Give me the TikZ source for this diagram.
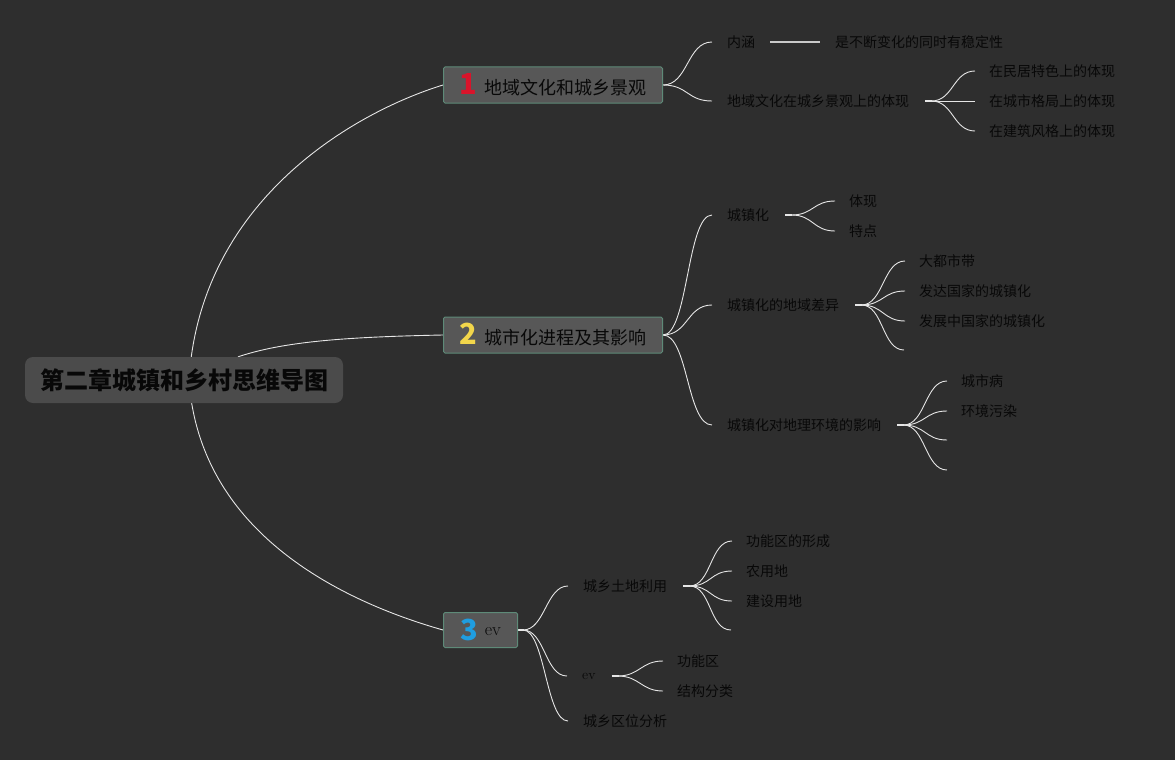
\documentclass[tikz,border=0pt]{standalone}
\usepackage{fontspec}
\newfontfamily\cjk{Noto Sans CJK SC}
\usetikzlibrary{calc}
\definecolor{bgc}{HTML}{2E2E2E}
\definecolor{boxc}{HTML}{575757}
\definecolor{bordc}{HTML}{5E8A78}
\definecolor{rootc}{HTML}{4B4B4B}
\definecolor{linec}{HTML}{E6E6E6}
\definecolor{txt}{HTML}{080808}
\definecolor{numa}{HTML}{D9142B}
\definecolor{numb}{HTML}{F2D64B}
\definecolor{numc}{HTML}{1F9DE0}
\pgfdeclarelayer{bg}
\pgfdeclarelayer{lines}
\pgfsetlayers{bg,lines,main}
\newcommand\numf{\cjk\bfseries\fontsize{29}{30}\selectfont}
\begin{document}
\begin{tikzpicture}[x=1pt,y=-1pt,
  br/.style={draw=linec, line width=0.9pt},
  lbl/.style={anchor=west, inner sep=0pt, font=\cjk\fontsize{14}{16}\selectfont, text=txt},
  topic/.style={draw=bordc, fill=boxc, line width=1pt, rounded corners=1.5pt,
     minimum height=36pt, anchor=west, inner sep=0pt,
     font=\cjk\fontsize{18}{20}\selectfont, text=txt},
  rootbox/.style={fill=rootc, rounded corners=8pt, minimum width=318pt, minimum height=46pt,
     inner sep=0pt, font=\cjk\bfseries\fontsize{24}{26}\selectfont, text=txt}]
\begin{pgfonlayer}{bg}
\fill[bgc] (0,0) rectangle (1175,760);
\end{pgfonlayer}
\useasboundingbox (0,0) rectangle (1175,760);

% root and topics
\node[rootbox] (root) at (184,380) {第二章城镇和乡村思维导图};
\node[topic, minimum width=219pt] (n1) at (443,85) {{\numf\color{numa}1}\hspace{7pt}地域文化和城乡景观};
\node[topic, minimum width=219pt] (n2) at (443,335) {{\numf\color{numb}2}\hspace{7pt}城市化进程及其影响};
\node[topic, minimum width=74pt, minimum height=35pt] (n3) at (443,630) {{\numf\color{numc}3}\hspace{7pt}\raisebox{5pt}{\rmfamily ev}};

% branch 1
\node[lbl] (a1) at (727,42) {内涵};
\node[lbl] (a1x) at (835,42) {是不断变化的同时有稳定性};
\node[lbl] (a2) at (727,101) {地域文化在城乡景观上的体现};
\node[lbl] (a21) at (989,71) {在民居特色上的体现};
\node[lbl] (a22) at (989,101) {在城市格局上的体现};
\node[lbl] (a23) at (989,131) {在建筑风格上的体现};

% branch 2
\node[lbl] (b1) at (727,215) {城镇化};
\node[lbl] (b11) at (849,201) {体现};
\node[lbl] (b12) at (849,231) {特点};
\node[lbl] (b2) at (727,305) {城镇化的地域差异};
\node[lbl] (b21) at (919,261) {大都市带};
\node[lbl] (b22) at (919,291) {发达国家的城镇化};
\node[lbl] (b23) at (919,321) {发展中国家的城镇化};
\coordinate (b24) at (904,350);
\node[lbl] (b3) at (727,425) {城镇化对地理环境的影响};
\node[lbl] (b31) at (961,381) {城市病};
\node[lbl] (b32) at (961,411) {环境污染};
\coordinate (b33) at (947,440);
\coordinate (b34) at (947,470);

% branch 3
\node[lbl] (c1) at (583,586) {城乡土地利用};
\node[lbl] (c11) at (746,541) {功能区的形成};
\node[lbl] (c12) at (746,571) {农用地};
\node[lbl] (c13) at (746,601) {建设用地};
\coordinate (c14) at (731,630);
\node[lbl, font=\fontsize{14}{16}\selectfont] (c2) at (582,676) {ev};
\node[lbl] (c21) at (677,661) {功能区};
\node[lbl] (c22) at (677,691) {结构分类};
\node[lbl] (c3) at (583,721) {城乡区位分析};

% start points of fans
\coordinate (sa2) at ([xshift=16pt]a2.east);
\coordinate (sb1) at ([xshift=16pt]b1.east);
\coordinate (sb2) at ([xshift=16pt]b2.east);
\coordinate (sb3) at ([xshift=16pt]b3.east);
\coordinate (sc1) at ([xshift=16pt]c1.east);
\coordinate (sc2) at ([xshift=16pt]c2.east);

\begin{pgfonlayer}{lines}
% root to topics
\draw[br] ([xshift=5pt]root.center) .. controls +(11,-180) and +(-88,27) .. (n1.west);
\draw[br] ([xshift=54pt]root.north) .. controls +(45,-15) and +(-100,2) .. (n2.west);
\draw[br] ([xshift=5pt]root.center) .. controls +(11,160) and +(-88,-25) .. (n3.west);

% topic 1
\draw[br] (n1.east) .. controls +(25,0) and +(-25,0) .. ([xshift=-15pt]a1.west);
\draw[br] (n1.east) .. controls +(25,0) and +(-25,0) .. ([xshift=-15pt]a2.west);
\draw[br, line width=1.2pt, draw=linec!85!bgc] ([xshift=15pt]a1.east) -- ([xshift=-15pt]a1x.west);
\draw[br, line width=1.6pt] (sa2) -- ++(7,0);
\foreach \t in {a21,a22,a23}
  \draw[br] ([xshift=6pt]sa2) .. controls +(22,0) and +(-22,0) .. ([xshift=-14pt]\t.west);

% topic 2
\foreach \t in {b1,b2,b3}
  \draw[br] (n2.east) .. controls +(25,0) and +(-25,0) .. ([xshift=-15pt]\t.west);
\draw[br, line width=1.6pt] (sb1) -- ++(7,0);
\foreach \t in {b11,b12}
  \draw[br] ([xshift=6pt]sb1) .. controls +(22,0) and +(-22,0) .. ([xshift=-14pt]\t.west);
\draw[br, line width=1.6pt] (sb2) -- ++(7,0);
\foreach \t in {b21,b22,b23}
  \draw[br] ([xshift=6pt]sb2) .. controls +(22,0) and +(-22,0) .. ([xshift=-14pt]\t.west);
\draw[br] ([xshift=6pt]sb2) .. controls +(22,0) and +(-22,0) .. (b24);
\draw[br, line width=1.6pt] (sb3) -- ++(7,0);
\foreach \t in {b31,b32}
  \draw[br] ([xshift=6pt]sb3) .. controls +(22,0) and +(-22,0) .. ([xshift=-14pt]\t.west);
\foreach \t in {b33,b34}
  \draw[br] ([xshift=6pt]sb3) .. controls +(22,0) and +(-22,0) .. (\t);

% topic 3
\draw[br, line width=1.6pt] (n3.east) -- ++(6,0);
\foreach \t in {c1,c2,c3}
  \draw[br] ([xshift=5pt]n3.east) .. controls +(22,0) and +(-22,0) .. ([xshift=-15pt]\t.west);
\draw[br, line width=1.6pt] (sc1) -- ++(7,0);
\foreach \t in {c11,c12,c13}
  \draw[br] ([xshift=6pt]sc1) .. controls +(22,0) and +(-22,0) .. ([xshift=-14pt]\t.west);
\draw[br] ([xshift=6pt]sc1) .. controls +(22,0) and +(-22,0) .. (c14);
\draw[br, line width=1.6pt] (sc2) -- ++(7,0);
\foreach \t in {c21,c22}
  \draw[br] ([xshift=6pt]sc2) .. controls +(22,0) and +(-22,0) .. ([xshift=-14pt]\t.west);
\end{pgfonlayer}
\end{tikzpicture}
\end{document}
